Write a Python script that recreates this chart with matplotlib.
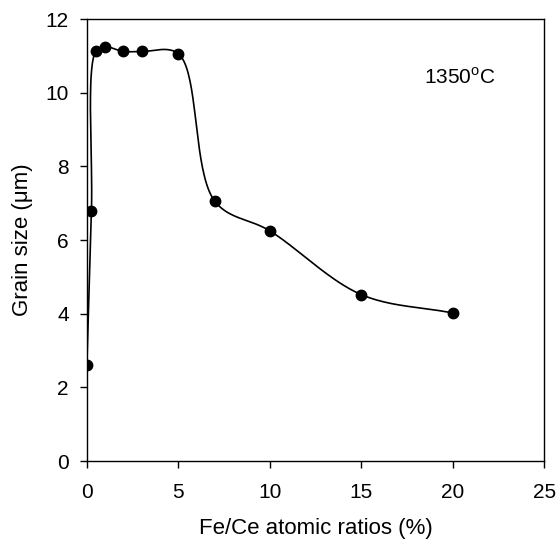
import numpy as np
import matplotlib
matplotlib.use("Agg")
import matplotlib.pyplot as plt

plt.rcParams['font.family'] = ['Liberation Sans', 'DejaVu Sans']

# data
fe_ratio = [0, 0.25, 0.5, 1, 2, 3, 5, 7, 10, 15, 20]
grain_size = [2.62, 6.8, 11.14, 11.25, 11.12, 11.12, 11.06, 7.05, 6.25, 4.52, 4.02]


def catmull_rom(xs, ys, sx, sy, n=40, alpha=0.5):
    # catmull-rom, done in screen-ish units so it looks smooth
    P = np.column_stack([np.asarray(xs) / sx, np.asarray(ys) / sy])
    P = np.vstack([2 * P[0] - P[1], P, 2 * P[-1] - P[-2]])
    out = []
    for i in range(1, len(P) - 2):
        p0, p1, p2, p3 = P[i - 1], P[i], P[i + 1], P[i + 2]
        t0 = 0.0
        t1 = t0 + np.linalg.norm(p1 - p0) ** alpha
        t2 = t1 + np.linalg.norm(p2 - p1) ** alpha
        t3 = t2 + np.linalg.norm(p3 - p2) ** alpha
        t = np.linspace(t1, t2, n)[:, None]
        a1 = (t1 - t) / (t1 - t0) * p0 + (t - t0) / (t1 - t0) * p1
        a2 = (t2 - t) / (t2 - t1) * p1 + (t - t1) / (t2 - t1) * p2
        a3 = (t3 - t) / (t3 - t2) * p2 + (t - t2) / (t3 - t2) * p3
        b1 = (t2 - t) / (t2 - t0) * a1 + (t - t0) / (t2 - t0) * a2
        b2 = (t3 - t) / (t3 - t1) * a2 + (t - t1) / (t3 - t1) * a3
        c = (t2 - t) / (t2 - t1) * b1 + (t - t1) / (t2 - t1) * b2
        out.append(c)
    c = np.vstack(out)
    return c[:, 0] * sx, c[:, 1] * sy


fig = plt.figure(figsize=(5.57, 5.45), dpi=100)
ax = fig.add_axes([0.156, 0.154, 0.821, 0.811])

cx, cy = catmull_rom(fe_ratio, grain_size, 25.0, 12.0)
ax.plot(cx, cy, color='black', lw=1.2)
ax.plot(fe_ratio, grain_size, 'o', color='black', markersize=7.5)

ax.set_xlim(0, 25)
ax.set_ylim(0, 12)
ax.set_xticks(np.arange(0, 26, 5))
ax.set_yticks(np.arange(0, 13, 2))
ax.tick_params(direction='out', length=5, width=1, labelsize=15)
ax.tick_params(axis='y', pad=8)
ax.tick_params(axis='x', pad=11)
for s in ax.spines.values():
    s.set_linewidth(1.0)

ax.set_xlabel('Fe/Ce atomic ratios (%)', fontsize=16, labelpad=11)
ax.set_ylabel('Grain size (\u03bcm)', fontsize=16, labelpad=9)
ax.text(20.4, 10.43, '1350$^\\mathregular{o}$C', fontsize=15, ha='center', va='center')

fig.savefig('out.png', dpi=100)
